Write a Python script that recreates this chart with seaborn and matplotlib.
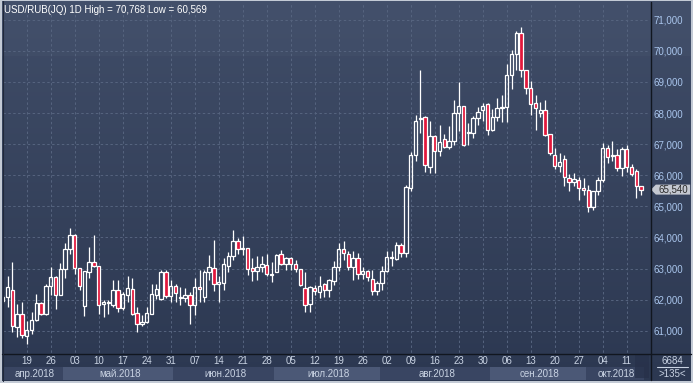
import numpy as np
import pandas as pd
import matplotlib
matplotlib.use("Agg")
import matplotlib.pyplot as plt
import seaborn as sns
from matplotlib.patches import Rectangle, Polygon
from matplotlib.transforms import blended_transform_factory

# daily candles USD/RUB, 12 Apr 2018 .. 16 Oct 2018 (weekdays)
dates = pd.bdate_range("2018-04-12", "2018-10-16")

opens = [
    61.95, 62.08, 62.30, 61.12, 61.53, 60.84, 61.01, 61.34, 61.88, 61.53,
    62.44, 62.73, 62.15, 62.99, 63.62, 64.08, 63.01, 61.81, 62.90, 63.20,
    63.07, 61.86, 61.90, 61.83, 62.30, 61.72, 62.14, 62.35, 61.56, 61.21,
    61.29, 61.55, 62.14, 62.02, 62.88, 62.11, 62.43, 62.07, 62.05, 62.16,
    61.83, 62.41, 62.10, 62.88, 63.03, 62.52, 62.54, 63.07, 63.39, 63.89,
    63.63, 63.65, 63.01, 62.92, 63.05, 63.12, 62.80, 62.90, 63.46, 63.14,
    63.35, 63.14, 62.99, 62.37, 61.85, 62.39, 62.26, 62.50, 62.31, 62.61,
    63.04, 63.62, 63.47, 63.06, 63.34, 62.83, 62.93, 62.68, 62.27, 62.53,
    62.93, 63.34, 63.32, 63.75, 63.51, 65.59, 66.66, 67.80, 67.86, 66.27,
    67.26, 66.78, 67.17, 66.91, 67.11, 68.01, 68.22, 67.36, 67.36, 67.83,
    68.09, 68.29, 67.47, 67.86, 68.16, 68.18, 69.21, 69.89, 70.56, 69.38,
    68.80, 68.33, 68.01, 68.10, 67.33, 66.66, 66.30, 66.51, 65.91, 65.79,
    65.85, 65.59, 65.53, 64.99, 65.49, 65.85, 66.88, 66.62, 66.64, 66.22,
    66.86, 66.28, 66.15, 65.66,
]
highs = [
    62.15, 62.76, 63.21, 61.85, 61.94, 61.31, 61.61, 62.17, 61.92, 62.50,
    63.04, 62.76, 63.19, 63.81, 64.29, 64.10, 63.01, 62.92, 63.68, 64.08,
    63.07, 62.00, 62.00, 62.62, 62.62, 62.24, 62.77, 62.71, 61.78, 61.50,
    61.78, 62.49, 62.52, 62.97, 62.97, 62.62, 62.52, 62.40, 62.37, 62.24,
    62.69, 62.95, 62.97, 63.44, 63.93, 62.77, 63.33, 63.52, 64.24, 63.97,
    64.04, 63.67, 63.33, 63.39, 63.39, 63.46, 63.22, 63.46, 63.61, 63.37,
    63.37, 63.27, 62.99, 62.90, 62.45, 62.47, 62.76, 62.55, 62.67, 63.26,
    63.83, 63.88, 63.58, 63.55, 63.49, 63.06, 62.95, 62.95, 62.59, 63.08,
    63.55, 63.55, 63.86, 63.81, 65.68, 66.75, 67.95, 69.39, 67.92, 67.73,
    67.28, 67.62, 67.34, 67.60, 68.41, 68.99, 68.24, 67.68, 67.92, 68.20,
    68.33, 68.31, 68.14, 68.48, 68.59, 69.59, 70.04, 70.64, 70.77, 69.40,
    69.04, 68.57, 68.37, 68.42, 67.33, 66.88, 66.73, 66.66, 66.04, 66.06,
    65.94, 65.91, 65.70, 65.51, 65.94, 67.05, 66.98, 67.09, 66.86, 66.92,
    66.98, 66.36, 66.19, 65.66,
]
lows = [
    61.90, 61.78, 60.97, 60.81, 60.76, 60.57, 60.89, 61.32, 61.51, 61.51,
    62.15, 61.70, 62.15, 62.69, 63.46, 62.82, 62.31, 61.49, 62.71, 63.05,
    61.55, 61.45, 61.55, 61.78, 61.61, 61.67, 61.92, 61.51, 60.95, 61.15,
    61.26, 61.53, 62.03, 61.98, 62.05, 61.94, 61.92, 61.83, 61.92, 61.23,
    61.51, 61.92, 61.92, 62.62, 62.28, 61.92, 62.32, 62.88, 63.29, 63.46,
    63.44, 62.79, 62.60, 62.62, 62.90, 62.77, 62.56, 62.88, 63.12, 62.97,
    62.97, 62.90, 62.43, 61.62, 61.62, 62.15, 62.05, 62.10, 62.08, 62.46,
    62.93, 63.28, 62.95, 62.63, 62.67, 62.66, 62.59, 62.16, 62.16, 62.31,
    62.90, 63.08, 63.28, 63.36, 63.36, 65.50, 66.47, 67.37, 66.12, 66.08,
    66.06, 66.63, 66.89, 66.83, 66.98, 67.43, 66.95, 66.96, 67.19, 67.62,
    67.73, 67.28, 67.43, 67.73, 67.71, 67.71, 68.78, 69.38, 69.16, 68.61,
    67.93, 67.45, 67.86, 67.26, 66.64, 66.19, 66.11, 65.66, 65.51, 65.66,
    65.21, 65.38, 64.82, 64.89, 65.38, 65.79, 66.39, 66.45, 66.13, 65.98,
    66.11, 65.98, 65.27, 65.36,
]
closes = [
    62.10, 62.42, 61.14, 61.53, 60.86, 61.01, 61.36, 61.88, 61.53, 62.44,
    62.73, 62.15, 62.99, 63.62, 64.08, 63.01, 62.45, 62.92, 63.20, 63.07,
    61.83, 61.94, 61.94, 62.30, 61.72, 62.19, 62.37, 61.53, 61.21, 61.28,
    61.56, 62.19, 62.35, 62.88, 62.11, 62.43, 62.21, 62.10, 62.16, 61.83,
    62.41, 62.35, 62.88, 63.05, 62.49, 62.58, 63.14, 63.42, 63.89, 63.63,
    63.66, 62.99, 62.92, 63.05, 63.14, 62.82, 62.82, 63.44, 63.14, 63.33,
    63.14, 62.99, 62.47, 61.83, 62.41, 62.28, 62.43, 62.31, 62.63, 63.04,
    63.62, 63.49, 63.06, 63.34, 62.83, 62.93, 62.72, 62.27, 62.53, 62.93,
    63.36, 63.36, 63.75, 63.51, 65.63, 66.66, 67.74, 67.84, 66.32, 67.26,
    66.78, 67.08, 66.91, 67.11, 68.01, 68.22, 66.98, 67.38, 67.83, 68.05,
    68.24, 67.45, 67.86, 68.16, 68.20, 69.21, 69.89, 70.56, 69.38, 68.82,
    68.29, 68.16, 68.10, 67.30, 66.71, 66.30, 66.43, 65.94, 65.79, 65.89,
    65.59, 65.53, 64.99, 65.49, 65.85, 66.88, 66.58, 66.66, 66.24, 66.86,
    66.28, 66.04, 65.66, 65.54,
]

title = "USD/RUB(JQ) 1D High = 70,768 Low = 60,569"
price_ticks = [61, 62, 63, 64, 65, 66, 67, 68, 69, 70, 71]
month_names = {4: "апр", 5: "май", 6: "июн", 7: "июл", 8: "авг", 9: "сен", 10: "окт"}
last_label = "65,540"
corner_top = "6684"
corner_bottom = ">135<"

sns.set_style("dark")
plt.rcParams["font.family"] = ["Liberation Sans", "DejaVu Sans"]

W, H = 693, 383
RED = "#e2183c"
TXT = "#c9d3e3"
GRID = "#56647f"
LINE = "#11161f"


def fr(x0, y0, x1, y1):
    # pixel box (origin top-left) -> figure rect
    return [x0 / W, 1 - y1 / H, (x1 - x0) / W, (y1 - y0) / H]


fig = plt.figure(figsize=(W / 100, H / 100), dpi=100)
fig.patch.set_facecolor("#c3cad5")

# navy gradient background
rows = np.linspace(0, 1, 380)[:, None]
top = np.array([64, 77, 104]) / 255
bot = np.array([44, 56, 81]) / 255
grad = top + (bot - top) * rows
grad[:55] += 3 / 255
bg = fig.add_axes(fr(2, 1, 691, 381))
bg.imshow(grad[:, None, :].repeat(2, axis=1), aspect="auto", extent=[0, 1, 0, 1])
bg.axis("off")

ax = fig.add_axes(fr(3, 3, 650, 353))
ax.set_facecolor("none")
ax.set_xlim(0.06, 134.85)
ax.set_ylim(60.286, 71.54)

x = np.arange(len(dates))
o = np.array(opens)
h = np.array(highs)
l = np.array(lows)
c = np.array(closes)
up = c >= o
body_lo = np.minimum(o, c)
body_hi = np.maximum(o, c)
body_h = np.maximum(body_hi - body_lo, 0.03)

thursdays = [i for i, d in enumerate(dates) if d.weekday() == 3 and i > 0]

# grid
ax.hlines(price_ticks, 0, 135, colors=GRID, lw=0.7, linestyles=(0, (2.5, 2.5)), zorder=0)
ax.vlines(thursdays, 60, 72, colors=GRID, lw=0.7, linestyles=(0, (2.5, 2.5)), zorder=0)

# candles
ax.vlines(x, body_hi, h, colors="white", lw=0.9, zorder=2)
ax.vlines(x, l, body_lo, colors="white", lw=0.9, zorder=2)
ax.bar(x[up], body_h[up], bottom=body_lo[up], width=0.7,
       facecolor="none", edgecolor="white", lw=0.9, zorder=3)
ax.bar(x[~up], body_h[~up], bottom=body_lo[~up], width=0.7,
       facecolor=RED, edgecolor="white", lw=0.9, zorder=3)

ax.yaxis.tick_right()
ax.set_yticks(price_ticks)
ax.set_yticklabels([f"{v:.3f}".replace(".", ",") for v in price_ticks])
ax.tick_params(axis="y", length=0, pad=2.5, labelcolor="#a9c5ec", labelsize=7)
ax.tick_params(axis="x", bottom=False, labelbottom=False)
for s in ax.spines.values():
    s.set_visible(False)
ax.grid(False)

# last price tag
tr = blended_transform_factory(ax.transAxes, ax.transData)
px = (ax.get_ylim()[1] - ax.get_ylim()[0]) / 350
yc = closes[-1]
tag = Polygon([(1.0015, yc), (1.009, yc + 5 * px), (1.062, yc + 5 * px),
               (1.062, yc - 5 * px), (1.009, yc - 5 * px)],
              closed=True, transform=tr, clip_on=False, fc="#c4c8d0", ec="none", zorder=5)
ax.add_patch(tag)
ax.text(1.0355, yc, last_label, transform=tr, ha="center", va="center",
        fontsize=7, color="#2a2a2a", clip_on=False, zorder=6)

# date strip
strip = fig.add_axes(fr(3, 353, 650, 380))
strip.set_facecolor("none")
strip.set_xlim(ax.get_xlim())
strip.set_ylim(0, 1)
strip.axis("off")
for i in thursdays:
    strip.text(i, 0.70, dates[i].strftime("%d"), ha="center", va="center", fontsize=7, color=TXT)

months = pd.Series(x, index=dates).groupby(dates.month)
x0, x1 = ax.get_xlim()
for k, (m, idx) in enumerate(months):
    a = max(idx.min() - 0.5, x0)
    b = min(idx.max() + 0.5, x1)
    fc = "#4b5876" if k % 2 else "#394562"
    strip.add_patch(Rectangle((a, 0), b - a, 0.48, fc=fc, ec="none"))
    strip.text((a + b) / 2 + 0.4, 0.23, f"{month_names[m]}.2018", ha="center", va="center",
               fontsize=7, color=TXT)

# overlay in pixel coordinates for frame lines and corner box
ov = fig.add_axes([0, 0, 1, 1])
ov.set_xlim(0, W)
ov.set_ylim(H, 0)
ov.axis("off")
ov.set_facecolor("none")
ov.add_patch(Rectangle((635, 355), 14, 23, fc="#27314a", ec="none", alpha=0.75))
ov.plot([650.5, 650.5], [2, 380], color=LINE, lw=1)
ov.plot([2, 691], [353.5, 353.5], color=LINE, lw=1)
ov.plot([2.5, 2.5], [1, 381], color="#20283a", lw=0.8)
ov.text(4, 10, title, ha="left", va="center", fontsize=7, color="white")
ov.text(672, 360.5, corner_top, ha="center", va="center", fontsize=7, color=TXT)
ov.plot([657, 688], [367, 367], color=TXT, lw=0.8)
ov.text(672, 374, corner_bottom, ha="center", va="center", fontsize=7, color=TXT)

fig.savefig("out.png", dpi=100, facecolor=fig.get_facecolor())
